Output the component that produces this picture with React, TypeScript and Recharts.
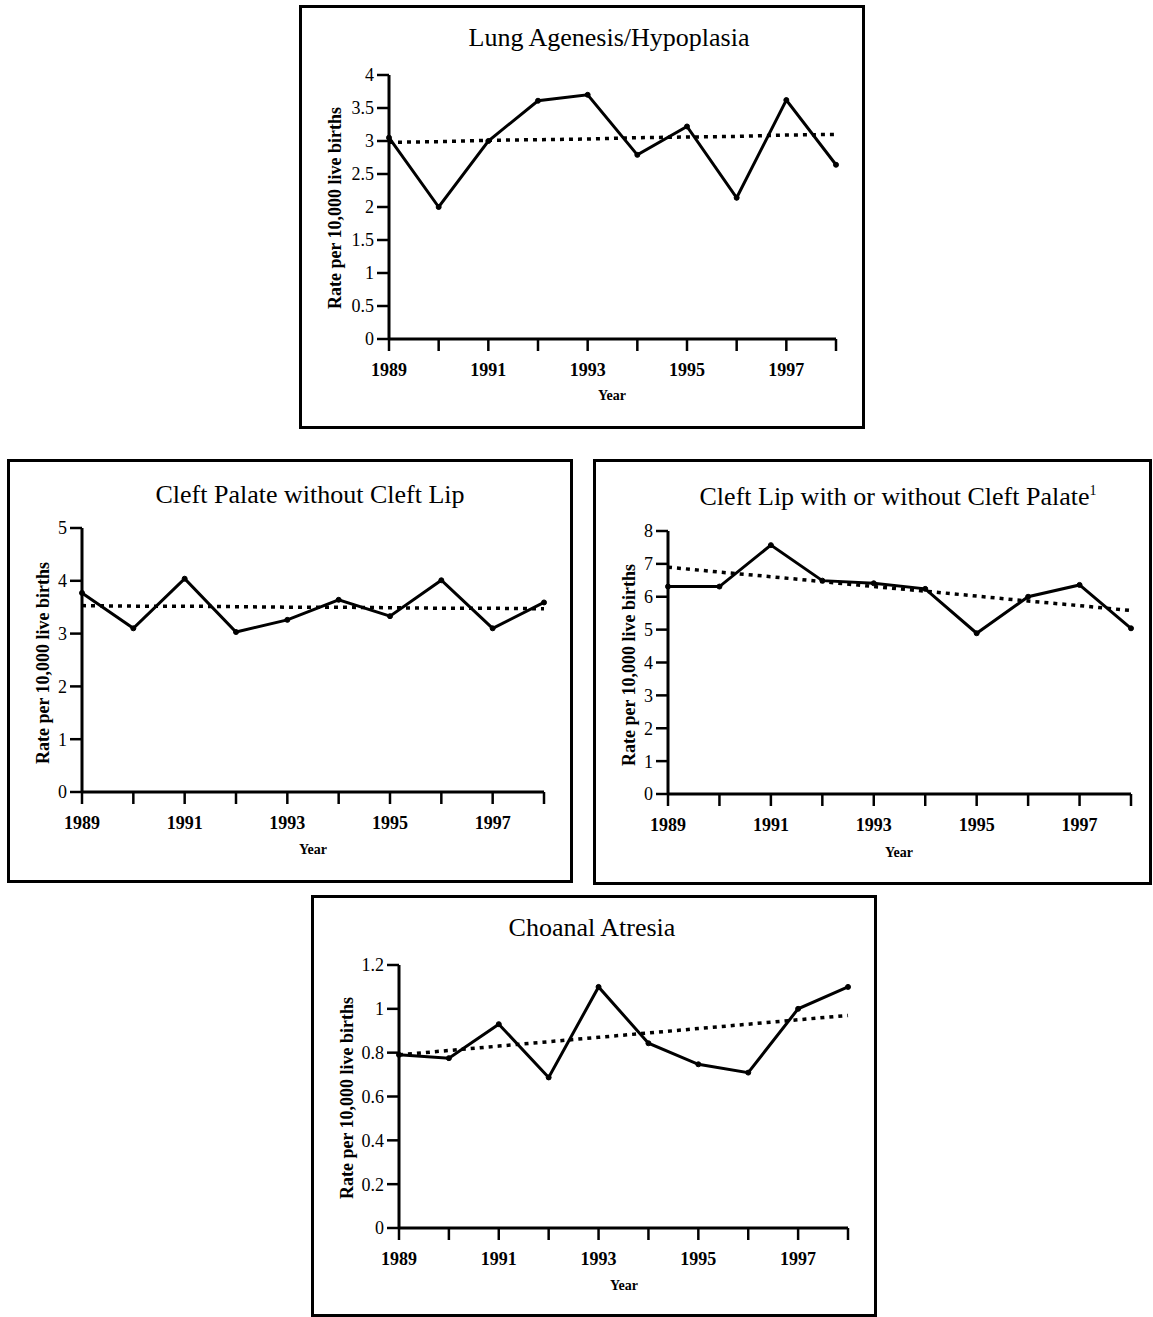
import React from 'react';
import { LineChart, Line, XAxis, YAxis } from 'recharts';

const years = [1989, 1990, 1991, 1992, 1993, 1994, 1995, 1996, 1997, 1998];
const labeledYears = [1989, 1991, 1993, 1995, 1997];

const lungRates = [3.05, 2.0, 3.0, 3.61, 3.7, 2.79, 3.22, 2.14, 3.62, 2.64];
const lungTrend = [2.98, 2.99, 3.01, 3.02, 3.03, 3.05, 3.06, 3.07, 3.09, 3.1];
const lungTicks = [0, 0.5, 1, 1.5, 2, 2.5, 3, 3.5, 4];

const palateRates = [3.77, 3.1, 4.04, 3.03, 3.26, 3.64, 3.33, 4.01, 3.1, 3.59];
const palateTrend = [3.53, 3.52, 3.52, 3.51, 3.5, 3.5, 3.49, 3.48, 3.48, 3.47];
const palateTicks = [0, 1, 2, 3, 4, 5];

const lipRates = [6.31, 6.31, 7.57, 6.49, 6.41, 6.24, 4.89, 6.0, 6.36, 5.04];
const lipTrend = [6.9, 6.75, 6.61, 6.46, 6.31, 6.17, 6.02, 5.87, 5.73, 5.58];
const lipTicks = [0, 1, 2, 3, 4, 5, 6, 7, 8];

const choanalRates = [0.79, 0.775, 0.93, 0.687, 1.1, 0.843, 0.747, 0.709, 1.0, 1.1];
const choanalTrend = [0.79, 0.81, 0.83, 0.85, 0.87, 0.89, 0.91, 0.93, 0.95, 0.97];
const choanalTicks = [0, 0.2, 0.4, 0.6, 0.8, 1, 1.2];

const yLabelText = 'Rate per 10,000 live births';
const xLabelText = 'Year';
const FONT = '"Liberation Serif", "Times New Roman", serif';

type Box = { left: number; top: number; width: number; height: number };
type Plot = { left: number; top: number; right: number; bottom: number };

interface PanelProps {
  title: React.ReactNode;
  box: Box;
  plot: Plot;
  rates: number[];
  trend: number[];
  ticks: number[];
  titlePos: [number, number];
  yLabelPos: [number, number];
  xLabelPos: [number, number];
}

const Y_AXIS_W = 50;
const X_AXIS_H = 40;

function Panel(p: PanelProps) {
  const data = years.map((y, i) => ({ year: y, rate: p.rates[i], trend: p.trend[i] }));
  const { box, plot } = p;
  const margin = {
    left: plot.left - box.left - Y_AXIS_W,
    top: plot.top - box.top,
    right: box.left + box.width - plot.right,
    bottom: box.top + box.height - plot.bottom - X_AXIS_H,
  };
  const maxV = p.ticks[p.ticks.length - 1];
  return (
    <>
      <div
        style={{
          position: 'absolute',
          left: box.left,
          top: box.top,
          width: box.width,
          height: box.height,
          border: '3px solid #000',
          boxSizing: 'border-box',
        }}
      />
      <div style={{ position: 'absolute', left: box.left, top: box.top }}>
        <LineChart width={box.width} height={box.height} data={data} margin={margin}>
          <XAxis
            dataKey="year"
            type="number"
            domain={[1989, 1998]}
            ticks={years}
            interval={0}
            height={X_AXIS_H}
            tickSize={12}
            tickMargin={12}
            tickFormatter={(v: number) => (labeledYears.includes(v) ? String(v) : '')}
            axisLine={{ stroke: '#000', strokeWidth: 3 }}
            tickLine={{ stroke: '#000', strokeWidth: 2.5 }}
            tick={{ fill: '#000', fontSize: 18, fontWeight: 'bold', fontFamily: FONT }}
          />
          <YAxis
            type="number"
            domain={[0, maxV]}
            ticks={p.ticks}
            interval={0}
            width={Y_AXIS_W}
            tickSize={12}
            tickMargin={3}
            axisLine={{ stroke: '#000', strokeWidth: 3 }}
            tickLine={{ stroke: '#000', strokeWidth: 2.5 }}
            tick={{ fill: '#000', fontSize: 18, fontFamily: FONT }}
          />
          <Line
            dataKey="trend"
            stroke="#000"
            strokeWidth={3.5}
            strokeDasharray="4 5"
            dot={false}
            isAnimationActive={false}
            type="linear"
          />
          <Line
            dataKey="rate"
            stroke="#000"
            strokeWidth={3}
            dot={{ r: 2.5, fill: '#000', stroke: '#000', strokeWidth: 1 }}
            isAnimationActive={false}
            type="linear"
          />
        </LineChart>
      </div>
      <div
        style={{
          position: 'absolute',
          left: p.titlePos[0] - 300,
          top: p.titlePos[1] - 16,
          width: 600,
          textAlign: 'center',
          fontFamily: FONT,
          fontSize: 26,
          lineHeight: '32px',
          whiteSpace: 'nowrap',
          color: '#000',
        }}
      >
        {p.title}
      </div>
      <div
        style={{
          position: 'absolute',
          left: p.yLabelPos[0] - 150,
          top: p.yLabelPos[1] - 11,
          width: 300,
          height: 22,
          lineHeight: '22px',
          textAlign: 'center',
          transform: 'rotate(-90deg)',
          transformOrigin: '50% 50%',
          fontFamily: FONT,
          fontSize: 18,
          fontWeight: 'bold',
          whiteSpace: 'nowrap',
          color: '#000',
        }}
      >
        {yLabelText}
      </div>
      <div
        style={{
          position: 'absolute',
          left: p.xLabelPos[0] - 50,
          top: p.xLabelPos[1] - 9,
          width: 100,
          lineHeight: '18px',
          textAlign: 'center',
          fontFamily: FONT,
          fontSize: 14,
          fontWeight: 'bold',
          color: '#000',
        }}
      >
        {xLabelText}
      </div>
    </>
  );
}

export default function App() {
  return (
    <div
      style={{
        position: 'absolute',
        left: 0,
        top: 0,
        width: 1153,
        height: 1317,
        background: '#fff',
        overflow: 'hidden',
      }}
    >
      <Panel
        title="Lung Agenesis/Hypoplasia"
        box={{ left: 299, top: 5, width: 566, height: 424 }}
        plot={{ left: 389, top: 75, right: 836, bottom: 339 }}
        rates={lungRates}
        trend={lungTrend}
        ticks={lungTicks}
        titlePos={[609, 38]}
        yLabelPos={[335, 208]}
        xLabelPos={[612, 396]}
      />
      <Panel
        title="Cleft Palate without Cleft Lip"
        box={{ left: 7, top: 459, width: 566, height: 424 }}
        plot={{ left: 82, top: 528, right: 544, bottom: 792 }}
        rates={palateRates}
        trend={palateTrend}
        ticks={palateTicks}
        titlePos={[310, 495]}
        yLabelPos={[43, 663]}
        xLabelPos={[313, 850]}
      />
      <Panel
        title={
          <span>
            Cleft Lip with or without Cleft Palate
            <sup style={{ fontSize: 14, verticalAlign: 'top', position: 'relative', top: -6 }}>1</sup>
          </span>
        }
        box={{ left: 593, top: 459, width: 559, height: 426 }}
        plot={{ left: 668, top: 531, right: 1131, bottom: 794 }}
        rates={lipRates}
        trend={lipTrend}
        ticks={lipTicks}
        titlePos={[898, 497]}
        yLabelPos={[629, 665]}
        xLabelPos={[899, 853]}
      />
      <Panel
        title="Choanal Atresia"
        box={{ left: 311, top: 895, width: 566, height: 422 }}
        plot={{ left: 399, top: 965, right: 848, bottom: 1228 }}
        rates={choanalRates}
        trend={choanalTrend}
        ticks={choanalTicks}
        titlePos={[592, 928]}
        yLabelPos={[347, 1098]}
        xLabelPos={[624, 1286]}
      />
    </div>
  );
}
